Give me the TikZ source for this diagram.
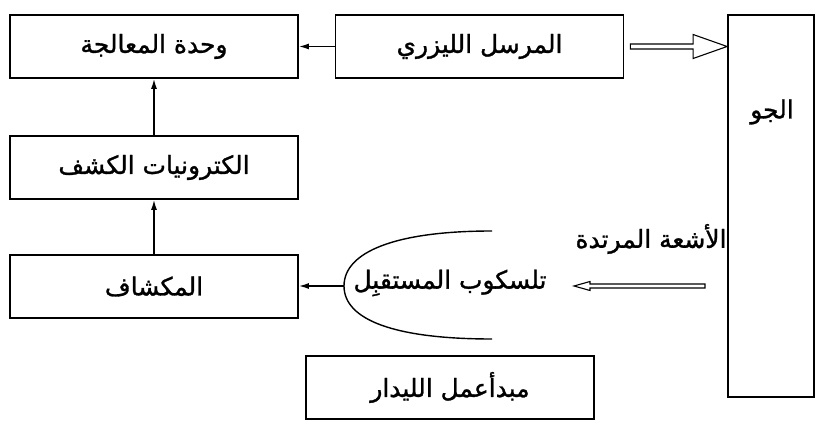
\documentclass[tikz,border=0pt]{standalone}
\usepackage{fontspec}
\usetikzlibrary{arrows.meta,calc}
\TeXXeTstate=1
\newfontfamily\arabicfont[Script=Arabic,FakeBold=1.2]{DejaVu Sans}
\newcommand{\ar}[1]{\beginR #1\endR}
\tikzstyle{block}=[draw,line width=1.8bp,minimum width=288bp,minimum height=63bp,inner sep=0pt]
\tikzstyle{lbl}=[font=\arabicfont\fontsize{25}{30}\selectfont,inner sep=0pt]
\tikzstyle{link}=[line width=1.4bp,-{Latex[length=10bp,width=6bp]}]
% hollow arrow: head length / head half width / shaft half width
\tikzset{hollow/.style n args={3}{line width=1.1bp,to path={let \p1=(\tikztostart), \p2=(\tikztotarget), \n1={sign(\x2-\x1)} in
  (\x1,\y1+#3) -- (\x2-\n1*#1,\y1+#3) -- (\x2-\n1*#1,\y1+#2) -- (\x2,\y1) -- (\x2-\n1*#1,\y1-#2) -- (\x2-\n1*#1,\y1-#3) -- (\x1,\y1-#3) -- cycle}}}

\begin{document}
\begin{tikzpicture}[x=1bp,y=-1bp]
    \useasboundingbox (0,0) rectangle (826,437);
    \node[block,lbl] (proc)  at (154,46.5)  {\ar{وحدة المعالجة}};
    \node[block,lbl] (laser) at (479.5,46.5) {\ar{المرسل الليزري}};
    \node[block,lbl] (elec)  at (154,167.5) {\ar{الكترونيات الكشف}};
    \node[block,lbl] (det)   at (154,286.5) {\ar{المكشاف}};
    \node[block,lbl] (prin)  at (450,387.5) {\ar{مبدأعمل الليدار}};
    \node[block,minimum width=86bp,minimum height=382bp] (atmo) at (771,206) {};
    \node[lbl] (atmolbl) at (772,112) {\ar{الجو}};
    \node[lbl] (tele) at (450,283) {\ar{تلسكوب المستقبِل}};
    \node[lbl] (refl) at (651,239) {\ar{الأشعة المرتدة}};
    \coordinate (lens) at (344,286);
    \coordinate (ray) at (705,286);

    % receiver mirror
    \draw[line width=1.4bp] (492,231) .. controls (395,231) and (344,252) .. (lens)
        .. controls (344,320) and (395,339) .. (492,339);

    \draw[link] (laser) -- (proc);
    \draw[link] (elec) -- (proc);
    \draw[link] (det) -- (elec);
    \draw[link] (lens) -- (det.east |- lens);
    \draw[hollow={34bp}{12bp}{2.5bp}] ([xshift=6bp]laser.east) to (atmo.west |- laser.east);
    \draw[hollow={16bp}{4.5bp}{2bp}] (ray) to ([xshift=-131bp]ray);
\end{tikzpicture}
\end{document}
